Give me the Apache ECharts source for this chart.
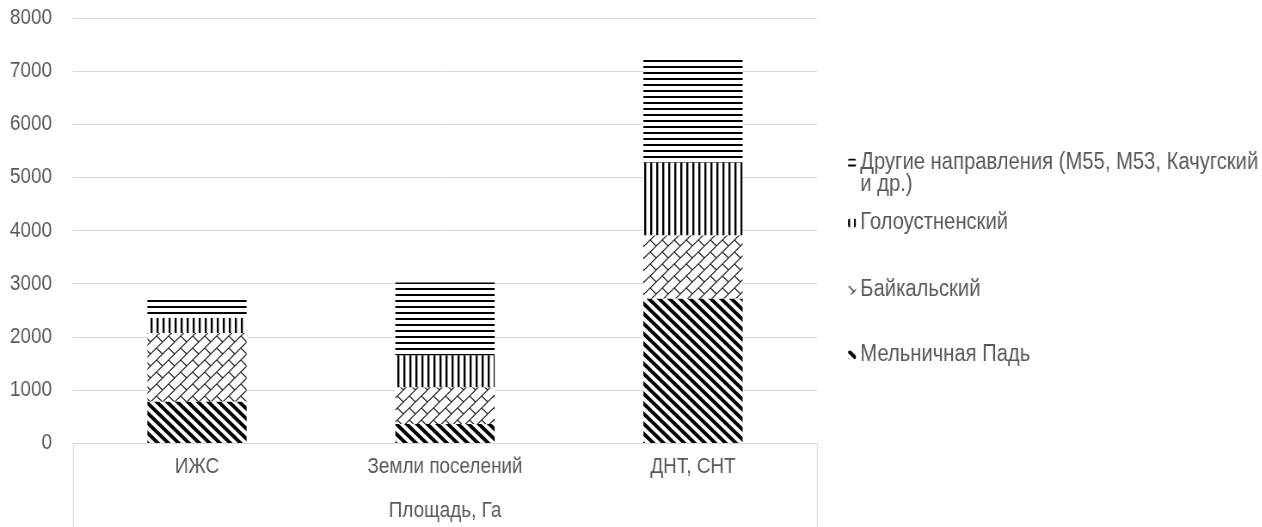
<!DOCTYPE html>
<html>
<head>
<meta charset="utf-8">
<title>Площадь, Га</title>
<script src="https://cdn.jsdelivr.net/npm/echarts@6/dist/echarts.min.js"></script>
<style>
  html, body { margin: 0; padding: 0; background: #ffffff; overflow: hidden; }
  #frame { width: 1262px; height: 527px; overflow: hidden; }
  /* The chart is laid out wider and squeezed horizontally so the text reads as a narrow face */
  #chart { height: 527px; transform-origin: 0 0; }
</style>
</head>
<body>
<div id="frame"><div id="chart"></div></div>
<script>
// Land categories on the first level of the x axis
const categories = ['ИЖС', 'Земли поселений', 'ДНТ, СНТ'];
// Second level of the x axis
const groupLabel = ['Площадь, Га'];
// Directions, stacked bottom to top
const seriesNames = ['Мельничная Падь', 'Байкальский', 'Голоустненский', 'Другие направления (М55, М53, Качугский и др.)'];
const melnichnayaPad = [780, 360, 2720];
const baikalsky = [1290, 690, 1190];
const goloustnensky = [290, 600, 1370];
const others = [330, 1370, 2000];
// Value axis range
const yMin = 0;
const yMax = 8000;
const yStep = 1000;

// Horizontal squeeze factor and the page width
const SX = 0.86;
const PAGE_W = 1262;
const W = PAGE_W / SX;

const el = document.getElementById('chart');
el.style.width = W + 'px';
el.style.transform = 'scaleX(' + SX + ')';

const FONT = "'Liberation Sans', Arial, sans-serif";
const TEXT = '#595959';
const GRID = '#d9d9d9';

// Hatch fills drawn on small tiles (widths pre-stretched against the squeeze)
function tile(w, h, draw) {
  const c = document.createElement('canvas');
  c.width = w; c.height = h;
  const ctx = c.getContext('2d');
  ctx.fillStyle = '#ffffff';
  ctx.fillRect(0, 0, w, h);
  draw(ctx, w, h);
  return { image: c, repeat: 'repeat' };
}

const hatchDiagonal = tile(12, 10, (ctx, w, h) => {
  ctx.strokeStyle = '#000';
  ctx.lineWidth = 3.8;
  for (let k = -w; k <= w; k += w) {
    ctx.beginPath();
    ctx.moveTo(k - w * 0.2, -h * 0.2);
    ctx.lineTo(k + w * 1.2, h * 1.2);
    ctx.stroke();
  }
});

const hatchBrick = tile(14, 12, (ctx, w, h) => {
  ctx.strokeStyle = '#222';
  ctx.lineWidth = 1.2;
  for (let k = 0; k <= 2 * w; k += w) {
    ctx.beginPath();
    ctx.moveTo(k - w * 1.2, h * 1.2);
    ctx.lineTo(k + w * 0.2, -h * 0.2);
    ctx.stroke();
  }
  [[0, 0], [w, 0], [0, h], [w, h], [-w, 0], [0, -h]].forEach(([x, y]) => {
    ctx.beginPath();
    ctx.moveTo(x, y);
    ctx.lineTo(x + w / 2, y + h / 2);
    ctx.stroke();
  });
});

const hatchVertical = tile(7, 6, (ctx, w, h) => {
  ctx.fillStyle = '#000';
  ctx.fillRect(0, 0, 2.4, h);
});

const hatchHorizontal = tile(6, 6, (ctx, w, h) => {
  ctx.fillStyle = '#000';
  ctx.fillRect(0, 0, w, 2);
});

const values = [melnichnayaPad, baikalsky, goloustnensky, others];
const fills = [hatchDiagonal, hatchBrick, hatchVertical, hatchHorizontal];

const series = seriesNames.map((name, i) => ({
  name: name,
  type: 'bar',
  stack: 'area',
  barWidth: '40%',
  xAxisIndex: 0,
  data: values[i],
  itemStyle: { color: fills[i] },
  emphasis: { disabled: true }
}));

// One legend block per direction, listed top to bottom in reverse stack order
const legendTops = [129, 211, 278, 343];
const LEGEND_FONT = 23.5;
const legends = seriesNames.slice().reverse().map((name, i) => ({
  orient: 'vertical',
  left: 848 / SX,
  top: legendTops[i],
  padding: 0,
  itemWidth: 8 / SX,
  itemHeight: 9,
  data: [name],
  selectedMode: false,
  // the long name wraps; a leading blank line keeps its first line level with the icon
  formatter: n => n.indexOf(' и др.') >= 0 ? '\n' + n.replace(' и др.', '\nи др.') : n,
  textStyle: i === 0
    ? { fontFamily: FONT, fontSize: LEGEND_FONT, color: TEXT, lineHeight: 22 }
    : { fontFamily: FONT, fontSize: LEGEND_FONT, color: TEXT, lineHeight: 24 }
}));

const chart = echarts.init(el, null, { renderer: 'canvas', width: W, height: 527 });
chart.setOption({
  animation: false,
  backgroundColor: '#ffffff',
  grid: {
    left: 73 / SX, right: (PAGE_W - 817) / SX, top: 18, bottom: 84,
    containLabel: false, outerBoundsMode: 'none'
  },
  legend: legends,
  xAxis: [
    {
      type: 'category',
      data: categories,
      position: 'bottom',
      axisLine: { show: true, lineStyle: { color: GRID, width: 1 } },
      axisTick: { show: false },
      axisLabel: { fontFamily: FONT, fontSize: 22, color: TEXT, margin: 13 }
    },
    {
      type: 'category',
      data: groupLabel,
      position: 'bottom',
      axisLine: { show: true, lineStyle: { color: GRID, width: 1 } },
      axisTick: { show: true, length: 84, lineStyle: { color: GRID, width: 1.2 } },
      axisLabel: { fontFamily: FONT, fontSize: 22, color: TEXT, margin: 57 }
    }
  ],
  yAxis: {
    type: 'value',
    min: yMin,
    max: yMax,
    interval: yStep,
    axisLine: { show: false },
    axisTick: { show: false },
    axisLabel: { fontFamily: FONT, fontSize: 22, color: TEXT, margin: 21 / SX, formatter: v => String(v) },
    splitLine: { show: true, lineStyle: { color: GRID, width: 1 } }
  },
  series: series
});
</script>
</body>
</html>
